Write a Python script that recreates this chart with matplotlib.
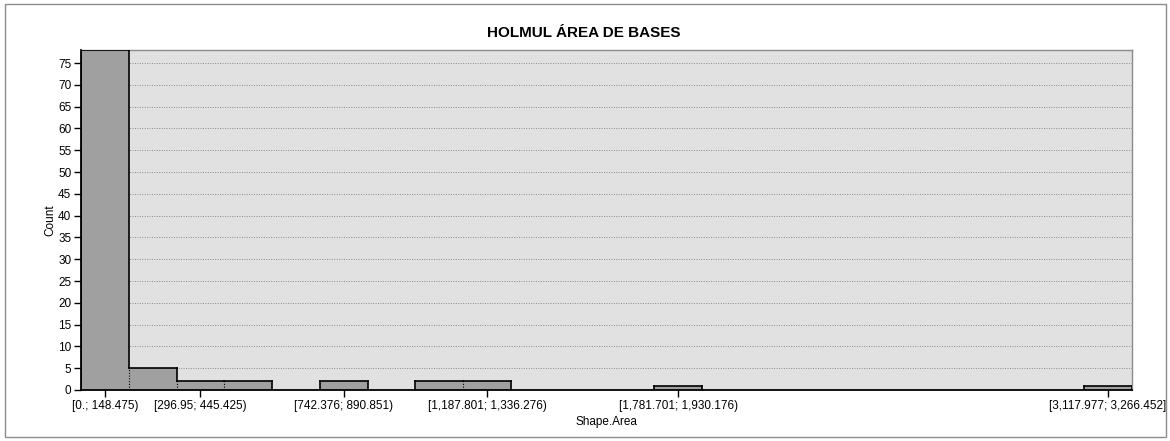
import matplotlib.pyplot as plt
from matplotlib.patches import Rectangle
import numpy as np

# Histogram of base areas: 22 equal-width bins over [0, 3266.452]
area_min = 0.0
area_max = 3266.452
n_bins = 22
counts = [78, 5, 2, 2, 0, 2, 0, 2, 2, 0, 0, 0, 1, 0, 0, 0, 0, 0, 0, 0, 0, 1]

# Bins that get a label on the x axis
label_bins = [0, 2, 5, 8, 12, 21]
label_text = ["[0.; 148.475)", "[296.95; 445.425)", "[742.376; 890.851)",
              "[1,187.801; 1,336.276)", "[1,781.701; 1,930.176)",
              "[3,117.977; 3,266.452]"]

plt.rcParams["font.family"] = ["Liberation Sans", "DejaVu Sans"]

edges = np.linspace(area_min, area_max, n_bins + 1)
width = edges[1] - edges[0]

fig = plt.figure(figsize=(11.7, 4.41), dpi=100)
# outer frame around the whole chart
fig.patches.append(Rectangle((5 / 1170, 4 / 441), 1161 / 1170, 433 / 441,
                             transform=fig.transFigure, fill=False,
                             edgecolor="#8c8c8c", linewidth=1.0))

ax = fig.add_axes([81 / 1170, 51 / 441, 1051 / 1170, 340 / 441])
ax.set_facecolor("#e1e1e1")

ax.bar(edges[:-1], counts, width=width, align="edge", color="#a0a0a0",
       edgecolor="none", zorder=2)

# outline of each run of bars, with dotted lines where neighbours meet
for i, c in enumerate(counts):
    if c == 0:
        continue
    x0, x1 = edges[i], edges[i + 1]
    left = counts[i - 1] if i > 0 else 0
    right = counts[i + 1] if i < n_bins - 1 else 0
    ax.plot([x0, x1], [c, c], color="black", lw=1.2, zorder=3)
    if left < c:
        ax.plot([x0, x0], [left, c], color="black", lw=1.2, zorder=3)
    if right < c:
        ax.plot([x1, x1], [right, c], color="black", lw=1.2, zorder=3)
    if right > 0:
        ax.plot([x1, x1], [0, min(c, right)], color="black", lw=0.8,
                linestyle=(0, (1, 1.5)), zorder=3)

ax.set_xlim(area_min, area_max)
ax.set_ylim(0, max(counts))
ax.set_yticks(np.arange(0, 76, 5))
ax.yaxis.grid(True, color="#8a8a8a", linestyle=(0, (1, 1.5)), linewidth=0.7)
ax.set_axisbelow(True)

centers = (edges[:-1] + edges[1:]) / 2
ax.set_xticks([centers[b] for b in label_bins])
ax.set_xticklabels(label_text)

ax.tick_params(axis="both", labelsize=8.5, length=5, width=1, color="black",
               direction="out", pad=2)

for side in ("top", "right"):
    ax.spines[side].set_color("#8c8c8c")
    ax.spines[side].set_linewidth(1.0)
for side in ("left", "bottom"):
    ax.spines[side].set_color("black")
    ax.spines[side].set_linewidth(1.3)

ax.set_ylabel("Count", fontsize=8.5, labelpad=1)
ax.set_xlabel("Shape.Area", fontsize=8.5, labelpad=3)
fig.suptitle("HOLMUL ÁREA DE BASES", fontsize=11, fontweight="bold",
             x=584 / 1170, y=1 - 33 / 441, va="center")

fig.savefig("out.png", dpi=100, facecolor="white")
